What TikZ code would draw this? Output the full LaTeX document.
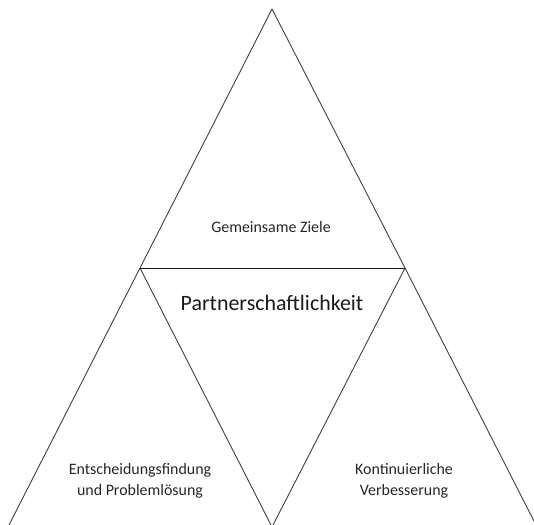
\documentclass[tikz,border=0pt]{standalone}
\usepackage{fontspec}
\setmainfont{Carlito}
\begin{document}
\begin{tikzpicture}[x=1bp,y=-1bp,
  edge/.style={draw=black!75, line width=0.9bp},
  label/.style={align=center, font=\fontsize{16}{20.5}\selectfont, text=black!85, inner sep=0pt},
  title/.style={align=center, font=\fontsize{22}{26}\selectfont, text=black!90, inner sep=0pt}]
\useasboundingbox (0,0) rectangle (534,525);
\begin{scope}
\clip (0,0) rectangle (534,525);
\coordinate (top) at (272,9);
\coordinate (ml) at (140,268);
\coordinate (mr) at (405,268);
\coordinate (bl) at (8,527);
\coordinate (bm) at (272,527);
\coordinate (br) at (537,527);
\draw[edge] (top) -- (ml) -- (bl);
\draw[edge] (top) -- (mr) -- (br);
\draw[edge] (ml) -- (bm) -- (mr);
\draw[edge, draw=black!90] (ml) -- (mr);
\end{scope}
\node[label] (goals) at (271,227) {Gemeinsame Ziele};
\node[title] (partner) at (272,303) {Partnerschaftlichkeit};
\node[label] (decide) at (140,481) {Entscheidungsfindung\\und Problemlösung};
\node[label] (improve) at (404,481) {Kontinuierliche\\Verbesserung};
\end{tikzpicture}
\end{document}
